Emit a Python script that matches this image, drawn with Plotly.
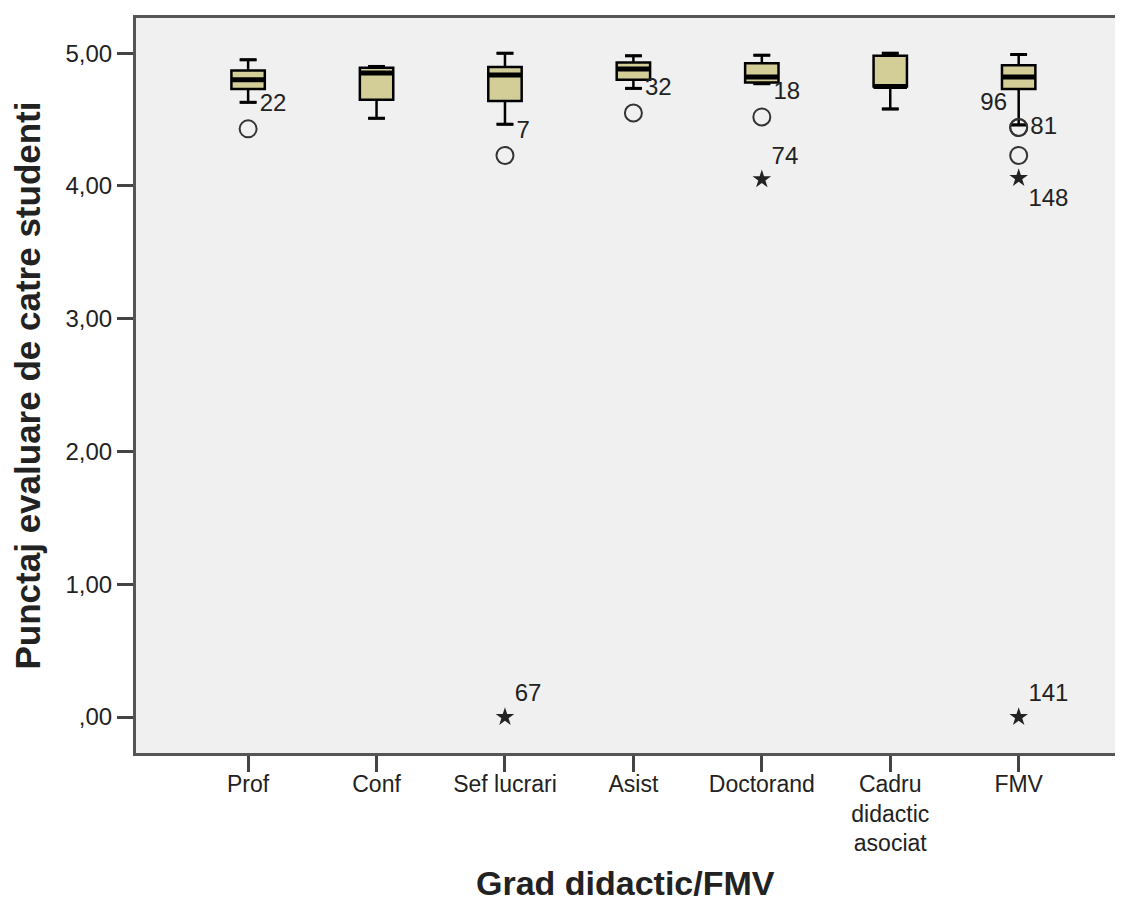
import plotly.graph_objects as go

# box plot of student evaluation scores by teaching grade
categories = ["Prof", "Conf", "Sef lucrari", "Asist", "Doctorand",
              "Cadru<br>didactic<br>asociat", "FMV"]
q1 = [4.73, 4.65, 4.64, 4.80, 4.78, 4.75, 4.73]
median = [4.80, 4.85, 4.835, 4.88, 4.82, 4.75, 4.82]
q3 = [4.87, 4.89, 4.895, 4.93, 4.925, 4.98, 4.91]
lower_whisker = [4.63, 4.51, 4.465, 4.735, 4.77, 4.58, 4.46]
upper_whisker = [4.95, 4.90, 5.00, 4.98, 4.985, 5.00, 4.99]

# outliers (circles) and extremes (stars): category index, value, case label
out_cat = [0, 2, 3, 4, 6, 6, 6]
out_val = [4.43, 4.23, 4.55, 4.52, 4.44, 4.44, 4.23]
out_lbl = ["22", "7", "32", "18", "96", "81", ""]
out_pos = ["top right", "top right", "top right", "top right",
           "top left", "middle right", "top right"]

ext_cat = [2, 4, 6, 6]
ext_val = [0.0, 4.05, 4.06, 0.0]
ext_lbl = ["67", "74", "148", "141"]
ext_pos = ["top right", "top right", "bottom right", "top right"]

y_ticks = [0, 1, 2, 3, 4, 5]
y_ticktext = [",00", "1,00", "2,00", "3,00", "4,00", "5,00"]

FONT = "Liberation Sans, Arial, sans-serif"
BOX_W = 0.26
xs = list(range(len(categories)))

fig = go.Figure()

fig.add_trace(go.Box(
    x=xs, q1=q1, median=median, q3=q3,
    lowerfence=lower_whisker, upperfence=upper_whisker,
    width=BOX_W, boxpoints=False,
    fillcolor="#d3ce97", line=dict(color="#000000", width=2.5),
    showlegend=False, hoverinfo="skip"))

# thick median line
fig.add_trace(go.Scatter(
    x=xs, y=median, mode="markers",
    marker=dict(symbol="line-ew", size=BOX_W * 128.5 / 1.4,
                line=dict(color="#000000", width=5)),
    showlegend=False, hoverinfo="skip"))

# whisker caps
fig.add_trace(go.Scatter(
    x=xs + xs, y=lower_whisker + upper_whisker, mode="markers",
    marker=dict(symbol="line-ew", size=12,
                line=dict(color="#000000", width=3)),
    showlegend=False, hoverinfo="skip"))

fig.add_trace(go.Scatter(
    x=out_cat, y=out_val, mode="markers+text",
    text=out_lbl, textposition=out_pos,
    textfont=dict(family=FONT, size=24, color="#222222"),
    marker=dict(symbol="circle-open", size=17, color="#333333",
                line=dict(color="#333333", width=2)),
    showlegend=False, hoverinfo="skip"))

fig.add_trace(go.Scatter(
    x=ext_cat, y=ext_val, mode="markers+text",
    text=ext_lbl, textposition=ext_pos,
    textfont=dict(family=FONT, size=24, color="#222222"),
    marker=dict(symbol="star", size=14, color="#222222",
                line=dict(color="#222222", width=0)),
    showlegend=False, hoverinfo="skip"))

fig.add_annotation(
    text="<b>Grad didactic/FMV</b>", xref="paper", yref="paper",
    x=0.5, y=-0.177, xanchor="center", yanchor="middle",
    showarrow=False, font=dict(family=FONT, size=34, color="#222222"))

# page body adds an 8px margin, so the figure is sized to fit inside it
fig.update_layout(
    width=1107, height=893,
    margin=dict(l=128, r=0, t=10, b=148),
    paper_bgcolor="#ffffff", plot_bgcolor="#f0f0f0",
    font=dict(family=FONT, size=24, color="#222222"),
    xaxis=dict(
        range=[-0.873, 6.75], tickvals=xs, ticktext=categories,
        showgrid=False, zeroline=False, automargin=False,
        showline=True, linecolor="#555555", linewidth=3, mirror=True,
        ticks="outside", ticklen=16, tickwidth=2.5, tickcolor="#444444",
        ticklabelstandoff=-8, tickfont=dict(size=23)),
    yaxis=dict(
        range=[-0.271, 5.265], tickvals=y_ticks, ticktext=y_ticktext,
        showgrid=False, zeroline=False, automargin=False,
        showline=True, linecolor="#555555", linewidth=3,
        ticks="outside", ticklen=16, tickwidth=2.5, tickcolor="#444444",
        tickfont=dict(size=24),
        title=dict(text="<b>Punctaj evaluare de catre studenti</b>",
                   font=dict(size=35), standoff=22)),
)

fig.write_html("out.html")
